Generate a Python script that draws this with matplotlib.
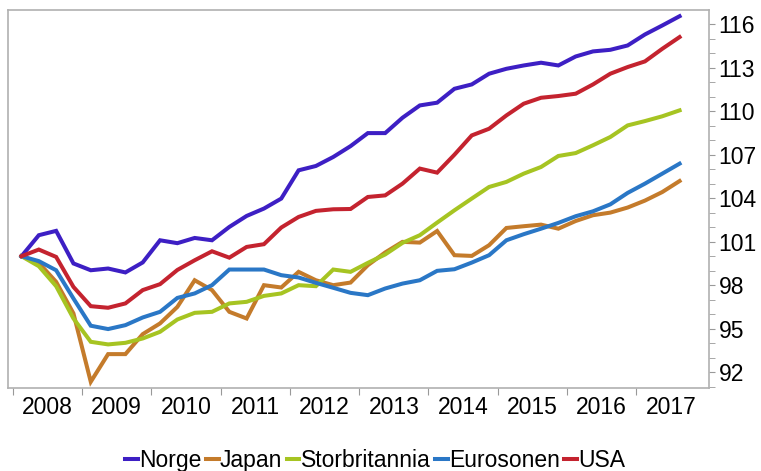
import matplotlib.pyplot as plt
import numpy as np

plt.rcParams['font.family'] = ['Liberation Sans', 'DejaVu Sans']

# quarterly, 2008Q1 - 2017Q3, plotted at mid-quarter
x = [2008 + (i + 0.5) / 4 for i in range(39)]

norge = [100, 101.45, 101.75, 99.5, 99.03, 99.15, 98.88, 99.57, 101.1, 100.9,
         101.26, 101.1, 102.02, 102.78, 103.29, 103.98, 105.93, 106.23, 106.85, 107.6,
         108.5, 108.5, 109.56, 110.41, 110.6, 111.56, 111.86, 112.6, 112.94, 113.17,
         113.36, 113.17, 113.79, 114.14, 114.25, 114.55, 115.31, 115.93, 116.57]
japan = [100, 99.54, 98.23, 96.05, 91.33, 93.24, 93.24, 94.62, 95.36, 96.5,
         98.34, 97.66, 96.16, 95.7, 98.0, 97.84, 98.92, 98.34, 98.0, 98.18,
         99.38, 100.26, 100.99, 100.94, 101.74, 100.07, 100.02, 100.76, 101.95, 102.07,
         102.18, 101.9, 102.43, 102.83, 103.01, 103.36, 103.84, 104.43, 105.19]
storbritannia = [100, 99.31, 97.93, 95.7, 94.09, 93.91, 94.02, 94.32, 94.78, 95.63,
                 96.09, 96.16, 96.74, 96.85, 97.26, 97.43, 98.0, 97.93, 99.08, 98.92,
                 99.54, 100.12, 100.92, 101.45, 102.32, 103.17, 103.98, 104.78, 105.13, 105.7,
                 106.16, 106.92, 107.12, 107.66, 108.23, 109.03, 109.33, 109.66, 110.07]
eurosonen = [100, 99.66, 99.03, 97.08, 95.2, 94.97, 95.24, 95.77, 96.16, 97.12,
             97.43, 98.0, 99.08, 99.08, 99.08, 98.69, 98.53, 98.16, 97.82, 97.47,
             97.31, 97.77, 98.11, 98.34, 98.99, 99.1, 99.56, 100.07, 101.1, 101.52,
             101.9, 102.3, 102.76, 103.1, 103.58, 104.37, 105.01, 105.7, 106.39]
usa = [100, 100.46, 99.95, 97.88, 96.55, 96.44, 96.74, 97.66, 98.07, 99.05,
       99.72, 100.34, 99.9, 100.64, 100.83, 101.98, 102.71, 103.13, 103.24, 103.26,
       104.09, 104.2, 105.01, 106.05, 105.77, 107.01, 108.34, 108.8, 109.72, 110.53,
       110.94, 111.06, 111.22, 111.86, 112.6, 113.06, 113.45, 114.32, 115.13]

series = [('Norge', norge, '#3d1fc4'),
          ('Japan', japan, '#c47b2b'),
          ('Storbritannia', storbritannia, '#a6c422'),
          ('Eurosonen', eurosonen, '#2a77c6'),
          ('USA', usa, '#c4232f')]

years = list(range(2008, 2018))

fig = plt.figure(figsize=(7.61, 4.71), dpi=100)
ax = fig.add_axes([0.0105, 0.1762, 0.9212, 0.8026])

for name, vals, col in series:
    ax.plot(x, vals, color=col, lw=2.9, label=name, solid_joinstyle='miter')

ax.set_xlim(2007.93, 2018.05)
ax.set_ylim(90.9, 117.0)

ax.yaxis.tick_right()
ax.set_yticks(np.arange(92, 117, 3))
ax.set_yticks(np.arange(91, 117, 1), minor=True)
ax.tick_params(axis='y', which='both', direction='out', length=4, color='#999999',
               labelsize=16.5, pad=3)

ax.set_xticks(years)
ax.set_xticklabels([])
ax.set_xticks([y + 0.5 for y in years], minor=True)
ax.set_xticklabels([str(y) for y in years], minor=True)
ax.tick_params(axis='x', which='major', direction='out', length=5, color='#999999')
ax.tick_params(axis='x', which='minor', length=0, labelsize=16.5, pad=6)

for s in ax.spines.values():
    s.set_color('#b0b0b0')
    s.set_linewidth(1.2)

fig.legend(loc='lower center', bbox_to_anchor=(0.493, -0.045), ncol=5, frameon=False,
           fontsize=16.5, handlelength=0.55, handletextpad=0.05, columnspacing=0.2)

fig.savefig('out.png', dpi=100)
